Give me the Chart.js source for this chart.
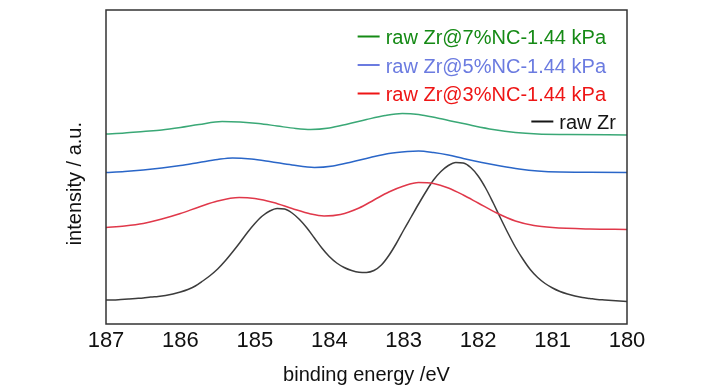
<!DOCTYPE html>
<html>
<head>
<meta charset="utf-8">
<script src="https://cdn.jsdelivr.net/npm/chart.js@4.4.0/dist/chart.umd.min.js"></script>
<style>
  body { margin: 0; background: #fff; }
</style>
</head>
<body>
<canvas id="xpsChart" width="728" height="390"></canvas>
<script>
// binding energy (eV) and intensity (a.u., offset per trace)
const energyRaw = [187, 186.9, 186.8, 186.7, 186.6, 186.5, 186.4, 186.3, 186.2, 186.1,
  186, 185.9, 185.8, 185.7, 185.6, 185.5, 185.4, 185.3, 185.2, 185.1,
  185, 184.9, 184.8, 184.7, 184.6, 184.5, 184.4, 184.3, 184.2, 184.1,
  184, 183.9, 183.8, 183.7, 183.6, 183.5, 183.4, 183.3, 183.2, 183.1,
  183, 182.9, 182.8, 182.7, 182.6, 182.5, 182.4, 182.3, 182.2, 182.1,
  182, 181.9, 181.8, 181.7, 181.6, 181.5, 181.4, 181.3, 181.2, 181.1,
  181, 180.9, 180.8, 180.7, 180.6, 180.5, 180.4, 180.3, 180.2, 180.1, 180];
const rawZr = [24, 24, 24.5, 25, 25.5, 26, 27, 27.5, 28.5, 30,
  32, 34.5, 38, 43, 48.5, 55, 63, 72, 81.5, 91.5,
  100.5, 108, 113, 115.5, 115, 111, 104.5, 96, 86, 76,
  67.5, 61, 56.5, 53.5, 51.8, 51.6, 53.5, 59, 68.5, 80.5,
  94, 107, 120, 132.5, 144, 152.5, 158.5, 161.5, 161, 156.5,
  148, 136, 121.5, 106, 91, 77, 65, 54.5, 46.5, 40.5,
  36, 32.5, 30, 28, 26.5, 25.5, 24.5, 24, 23.5, 23, 22.5];

const energy3 = [187, 186.75, 186.5, 186.25, 186, 185.75, 185.5, 185.21, 185, 184.75, 184.5, 184.25, 184.07, 183.85, 183.6, 183.4, 183.2, 183, 182.8, 182.6, 182.4, 182.2, 182, 181.75, 181.5, 181.25, 181, 180.5, 180];
const zr3 = [96.5, 98, 100.5, 105, 110.5, 117, 123, 126.5, 125.5, 121.5, 115.5, 110, 108, 109.5, 116, 124, 132, 138, 141.5, 140.5, 136, 129, 121, 111, 103, 98.5, 96.5, 95, 94.5];

const energy5 = [187, 186.75, 186.5, 186.25, 186, 185.75, 185.5, 185.3, 185.05, 184.8, 184.5, 184.2, 183.95, 183.7, 183.45, 183.2, 182.95, 182.8, 182.6, 182.4, 182.2, 181.95, 181.7, 181.45, 181.2, 180.9, 180.5, 180];
const zr5 = [151.5, 152.5, 154, 156, 158.5, 161.5, 164.5, 166, 165, 162.5, 159, 156.5, 158, 162, 166.5, 170.5, 172.5, 173, 171.5, 169, 165.5, 161.5, 158, 155, 153, 152, 151.8, 151.6];

const energy7 = [187, 186.75, 186.5, 186.25, 186, 185.75, 185.44, 185.2, 184.95, 184.7, 184.45, 184.25, 184, 183.75, 183.5, 183.25, 183.02, 182.8, 182.55, 182.3, 182.05, 181.8, 181.5, 181.2, 180.8, 180];
const zr7 = [190, 191, 192.5, 194, 196.5, 199.5, 202.5, 202, 200.5, 198, 195.5, 194.5, 196, 200, 204.5, 208.5, 210.5, 209.5, 206, 202, 198, 194.5, 191.5, 190, 189.5, 189];

const xTicks = [187, 186, 185, 184, 183, 182, 181, 180];

function pts(xs, ys) {
  return xs.map((x, i) => ({ x: x, y: ys[i] }));
}

const sans = "'Liberation Sans', Arial, sans-serif";

// legend drawn as right aligned rows in the top right corner
const cornerLegend = {
  id: 'cornerLegend',
  afterDraw(chart) {
    const ctx = chart.ctx;
    const rows = [
      { ds: 0, color: '#158a15', right: 606, y: 44 },
      { ds: 1, color: '#6b7be0', right: 606, y: 72.5 },
      { ds: 2, color: '#ee1515', right: 606, y: 101 },
      { ds: 3, color: '#151515', right: 616, y: 129 }
    ];
    ctx.save();
    ctx.font = '20px ' + sans;
    ctx.textAlign = 'right';
    ctx.textBaseline = 'alphabetic';
    rows.forEach(r => {
      const label = chart.data.datasets[r.ds].label;
      const w = ctx.measureText(label).width;
      ctx.fillStyle = r.color;
      ctx.fillText(label, r.right, r.y);
      ctx.strokeStyle = r.color;
      ctx.lineWidth = 2;
      ctx.beginPath();
      ctx.moveTo(r.right - w - 28, r.y - 7.5);
      ctx.lineTo(r.right - w - 6, r.y - 7.5);
      ctx.stroke();
    });
    ctx.restore();
  }
};

const frame = {
  id: 'frame',
  afterDraw(chart) {
    const a = chart.chartArea;
    const ctx = chart.ctx;
    ctx.save();
    ctx.strokeStyle = '#333';
    ctx.lineWidth = 1.5;
    ctx.strokeRect(a.left, a.top, a.right - a.left, a.bottom - a.top);
    ctx.restore();
  }
};

new Chart(document.getElementById('xpsChart'), {
  type: 'line',
  data: {
    datasets: [
      { label: 'raw Zr@7%NC-1.44 kPa', data: pts(energy7, zr7), borderColor: '#3aa876' },
      { label: 'raw Zr@5%NC-1.44 kPa', data: pts(energy5, zr5), borderColor: '#2a66c8' },
      { label: 'raw Zr@3%NC-1.44 kPa', data: pts(energy3, zr3), borderColor: '#e0384a' },
      { label: 'raw Zr', data: pts(energyRaw, rawZr), borderColor: '#3c3c3c' }
    ]
  },
  options: {
    responsive: false,
    animation: false,
    datasets: {
      line: {
        borderWidth: 1.5,
        pointRadius: 0,
        cubicInterpolationMode: 'monotone'
      }
    },
    layout: { padding: { top: 10, right: 101, left: 0, bottom: 0 } },
    plugins: {
      legend: { display: false },
      tooltip: { enabled: false }
    },
    scales: {
      x: {
        type: 'linear',
        reverse: true,
        min: 180,
        max: 187,
        afterBuildTicks: s => { s.ticks = xTicks.map(v => ({ value: v })); },
        afterFit: s => { s.height = 66; },
        grid: { display: false, drawTicks: false },
        border: { display: false },
        ticks: {
          padding: 4,
          color: '#111',
          font: { family: sans, size: 22 },
          maxRotation: 0
        },
        title: {
          display: true,
          text: 'binding energy /eV',
          color: '#111',
          font: { family: sans, size: 20, lineHeight: 1.2 },
          padding: { top: 0, bottom: 3 }
        }
      },
      y: {
        min: 0,
        max: 314,
        afterFit: s => { s.width = 106; },
        grid: { display: false, drawTicks: false },
        border: { display: false },
        ticks: { display: false },
        title: {
          display: true,
          text: 'intensity / a.u.      ',
          color: '#111',
          font: { family: sans, size: 20, lineHeight: 1.2 },
          padding: { top: 63, bottom: 0 }
        }
      }
    }
  },
  plugins: [cornerLegend, frame]
});
</script>
</body>
</html>
